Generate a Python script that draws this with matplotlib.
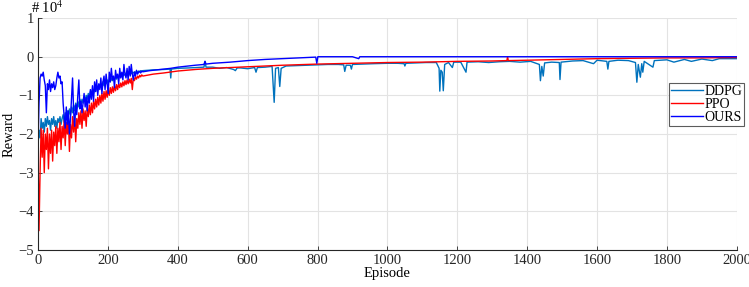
import matplotlib
matplotlib.use('Agg')
import matplotlib.pyplot as plt
from matplotlib.ticker import MultipleLocator

plt.rcParams['font.family'] = ['Liberation Serif', 'DejaVu Serif']
plt.rcParams['mathtext.fontset'] = 'stix'

# ── Data (reward in units of 1e4) ─────────────────────────────────────────────
ep_early = list(range(0, 301, 3))

ours_early = [
    -2.30, -1.20, -0.55, -0.45, -0.50, -0.40, -0.60, -0.75, -1.45, -0.70,
    -0.85, -0.60, -0.90, -0.70, -0.80, -0.65, -0.85, -0.75, -0.55, -0.40,
    -0.55, -0.50, -0.70, -0.65, -1.20, -1.55, -1.85, -1.30, -1.75, -1.40,
    -2.00, -1.60, -1.10, -0.55, -1.40, -1.80, -1.25, -1.50, -1.00, -0.60,
    -1.35, -1.15, -1.45, -1.20, -0.95, -1.30, -1.05, -1.40, -1.00, -1.20,
    -0.85, -1.10, -0.75, -1.15, -0.65, -0.90, -0.60, -1.00, -0.70, -0.85,
    -0.55, -0.95, -0.65, -0.50, -0.85, -0.45, -0.70, -0.95, -0.40, -0.65,
    -0.30, -0.60, -0.50, -0.80, -0.35, -0.55, -0.45, -0.70, -0.30, -0.55,
    -0.40, -0.60, -0.20, -0.45, -0.55, -0.30, -0.60, -0.25, -0.50, -0.20,
    -0.45, -0.60, -0.40, -0.50, -0.35, -0.45, -0.40, -0.38, -0.42, -0.37,
    -0.39,
]
ddpg_early = [
    -2.30, -1.90, -2.10, -1.60, -1.85, -1.70, -1.95, -1.60, -1.80, -1.55,
    -1.75, -1.65, -1.90, -1.60, -1.75, -1.55, -1.80, -1.65, -1.85, -1.60,
    -1.70, -1.55, -1.75, -1.60, -1.50, -1.70, -1.45, -1.60, -1.40, -1.55,
    -1.35, -1.50, -1.30, -1.45, -1.25, -1.40, -1.20, -1.35, -1.15, -1.30,
    -1.10, -1.25, -1.10, -1.20, -1.05, -1.15, -1.00, -1.10, -0.95, -1.05,
    -0.90, -1.00, -0.85, -0.95, -0.85, -0.90, -0.75, -0.85, -0.75, -0.80,
    -0.70, -0.80, -0.65, -0.75, -0.65, -0.70, -0.60, -0.70, -0.60, -0.65,
    -0.55, -0.62, -0.55, -0.60, -0.50, -0.58, -0.50, -0.55, -0.48, -0.52,
    -0.45, -0.50, -0.45, -0.48, -0.42, -0.46, -0.42, -0.45, -0.40, -0.44,
    -0.40, -0.42, -0.39, -0.41, -0.38, -0.40, -0.37, -0.39, -0.36, -0.38,
    -0.36,
]
ppo_early = [
    -2.30, -4.50, -3.00, -1.85, -2.60, -1.90, -3.00, -2.00, -2.40, -1.85,
    -2.90, -2.00, -2.50, -1.90, -2.70, -1.95, -2.30, -1.80, -2.50, -1.85,
    -2.20, -1.70, -2.40, -1.80, -2.10, -1.65, -2.30, -1.70, -2.00, -1.60,
    -2.45, -1.75, -2.10, -1.55, -1.95, -1.50, -2.20, -1.60, -1.85, -1.45,
    -1.75, -1.40, -1.85, -1.35, -1.65, -1.40, -1.80, -1.30, -1.55, -1.25,
    -1.50, -1.20, -1.45, -1.15, -1.35, -1.10, -1.30, -1.05, -1.25, -1.00,
    -1.20, -0.95, -1.15, -0.90, -1.10, -0.88, -1.05, -0.85, -1.00, -0.80,
    -0.95, -0.78, -0.92, -0.75, -0.88, -0.72, -0.85, -0.70, -0.80, -0.68,
    -0.78, -0.65, -0.75, -0.62, -0.72, -0.60, -0.70, -0.58, -0.68, -0.56,
    -0.85, -0.55, -0.62, -0.52, -0.58, -0.50, -0.55, -0.48, -0.52, -0.47,
    -0.50,
]

ours_ep_late = [320, 340, 360, 380, 400, 450, 475, 478, 481, 500, 550, 600,
                650, 700, 750, 795, 798, 801, 900, 918, 921, 1000, 1200,
                1400, 1600, 1800, 2000]
ours_late = [-0.36, -0.34, -0.32, -0.30, -0.27, -0.22, -0.20, -0.12, -0.19,
             -0.17, -0.14, -0.10, -0.07, -0.05, -0.03, -0.01, -0.17, 0.0,
             0.0, -0.05, 0.0, 0.0, 0.0, 0.0, 0.0, 0.0, 0.0]

ppo_ep_late = [330, 360, 400, 450, 500, 600, 700, 800, 900, 1000, 1100,
               1200, 1300, 1342, 1344, 1346, 1400, 1500, 1600, 1700, 1800,
               1900, 2000]
ppo_late = [-0.45, -0.42, -0.37, -0.33, -0.30, -0.26, -0.22, -0.19, -0.17,
            -0.15, -0.14, -0.12, -0.11, -0.10, 0.0, -0.10, -0.09, -0.07,
            -0.05, -0.04, -0.03, -0.03, -0.02]

ddpg_ep_late = [330, 360, 378, 380, 382, 400, 430, 450, 475, 478, 481, 500,
                520, 540, 560, 565, 570, 580, 600, 620, 624, 628, 650, 670,
                676, 680, 688, 692, 696, 710, 740, 770, 800, 830, 860, 875,
                878, 882, 894, 897, 900, 930, 960, 1000, 1030, 1048, 1050,
                1053, 1080, 1110, 1140, 1148, 1150, 1153, 1157, 1160, 1164,
                1175, 1186, 1190, 1210, 1225, 1228, 1260, 1290, 1320, 1350,
                1380, 1410, 1435, 1438, 1442, 1446, 1450, 1470, 1492, 1494,
                1497, 1530, 1560, 1590, 1600, 1628, 1631, 1634, 1660, 1690,
                1710, 1714, 1718, 1724, 1728, 1731, 1735, 1760, 1764, 1800,
                1820, 1850, 1870, 1900, 1930, 1950, 2000]
ddpg_late = [-0.34, -0.33, -0.32, -0.55, -0.32, -0.30, -0.29, -0.28, -0.27,
             -0.12, -0.27, -0.27, -0.30, -0.28, -0.33, -0.36, -0.29, -0.29,
             -0.31, -0.28, -0.40, -0.28, -0.27, -0.25, -1.18, -0.30, -0.28,
             -0.77, -0.30, -0.24, -0.23, -0.22, -0.21, -0.20, -0.20, -0.21,
             -0.38, -0.22, -0.22, -0.32, -0.20, -0.19, -0.18, -0.17, -0.17,
             -0.18, -0.24, -0.17, -0.16, -0.15, -0.15, -0.30, -0.89, -0.35,
             -0.40, -0.88, -0.20, -0.15, -0.28, -0.14, -0.14, -0.40, -0.14,
             -0.13, -0.15, -0.13, -0.12, -0.14, -0.12, -0.20, -0.62, -0.25,
             -0.50, -0.16, -0.14, -0.15, -0.59, -0.14, -0.11, -0.10, -0.18,
             -0.09, -0.12, -0.32, -0.12, -0.09, -0.10, -0.15, -0.66, -0.20,
             -0.53, -0.18, -0.40, -0.12, -0.27, -0.10, -0.08, -0.14, -0.07,
             -0.12, -0.06, -0.10, -0.05, -0.05]

series = [
    ('DDPG', ep_early + ddpg_ep_late, ddpg_early + ddpg_late, '#0072BD'),
    ('PPO', ep_early + ppo_ep_late, ppo_early + ppo_late, '#FF0000'),
    ('OURS', ep_early + ours_ep_late, ours_early + ours_late, '#0000FF'),
]

# ── Plot ──────────────────────────────────────────────────────────────────────
fig = plt.figure(figsize=(7.49, 2.87), dpi=100)
ax = fig.add_axes([0.0507, 0.129, 0.933, 0.808])

for name, x, y, c in series:
    ax.plot(x, y, color=c, lw=1.0, label=name)

ax.set_xlim(0, 2000)
ax.set_ylim(-5, 1)
ax.xaxis.set_major_locator(MultipleLocator(200))
ax.yaxis.set_major_locator(MultipleLocator(1))
ax.grid(True, color='#e3e3e3', lw=0.8)
ax.set_axisbelow(True)
for s in ('top', 'right'):
    ax.spines[s].set_visible(False)
for s in ('left', 'bottom'):
    ax.spines[s].set_color('#262626')
    ax.spines[s].set_linewidth(0.8)
ax.tick_params(direction='in', length=3, width=0.6, labelsize=10.5,
               colors='#262626', pad=3)

ax.set_xlabel('Episode', fontsize=10.5, labelpad=0)
ax.set_ylabel('Reward', fontsize=10.5, labelpad=2)
ax.text(-0.01, 1.01, r'# 10$^{4}$', transform=ax.transAxes,
        fontsize=10.5, ha='left', va='bottom')

leg = ax.legend(loc='upper left', bbox_to_anchor=(0.903, 0.719),
                fontsize=10, frameon=True, fancybox=False, handlelength=2.3,
                handletextpad=0.1, borderpad=0.15, labelspacing=0.0,
                borderaxespad=0)
leg.get_frame().set_edgecolor('#333333')
leg.get_frame().set_linewidth(0.8)

fig.savefig('out.png', dpi=100, facecolor='white')
